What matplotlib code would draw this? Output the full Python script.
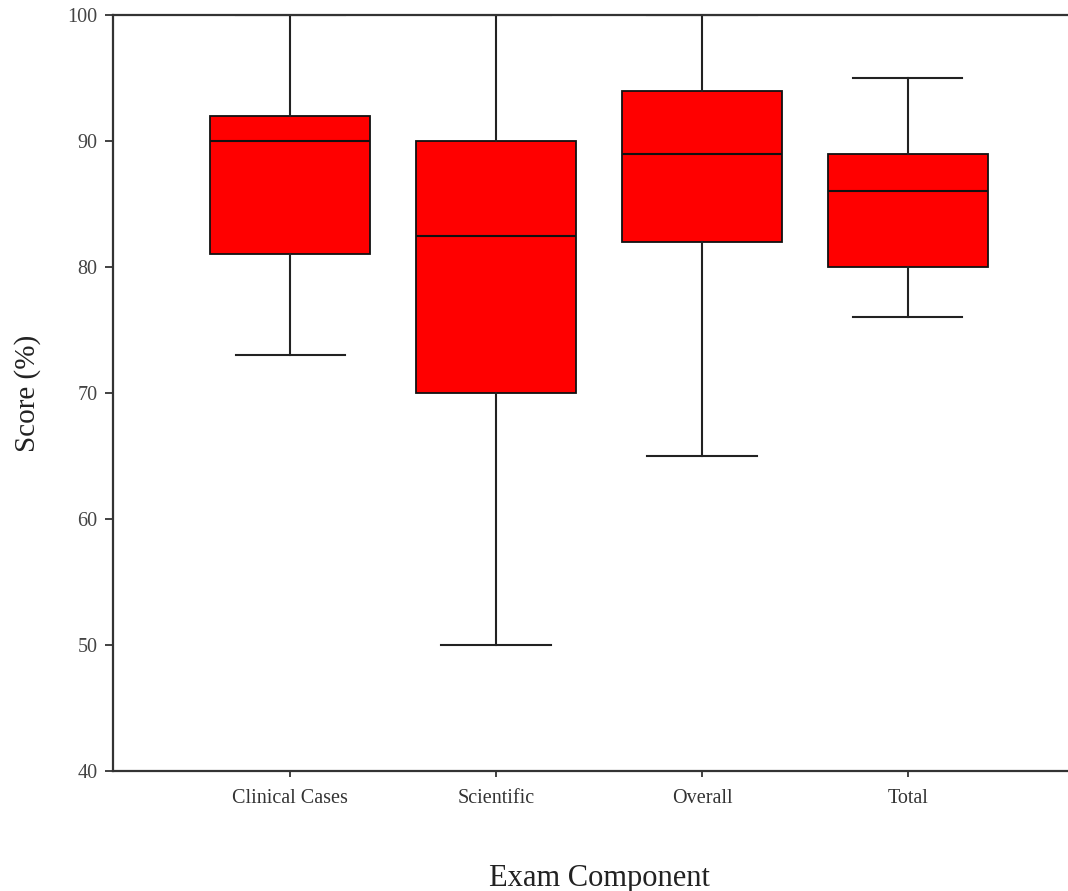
import numpy as np
import matplotlib
matplotlib.use("Agg")
import matplotlib.pyplot as plt

plt.rcParams['font.family'] = ['Liberation Serif', 'DejaVu Serif']

# box plot summary (score %)
components = ["Clinical Cases", "Scientific", "Overall", "Total"]
whisker_low = [73, 50, 65, 76]
q1 = [81, 70, 82, 80]
median = [90, 82.5, 89, 86]
q3 = [92, 90, 94, 89]
whisker_high = [100, 100, 100, 95]
y_ticks = [40, 50, 60, 70, 80, 90, 100]

stats = []
for i in range(len(components)):
    stats.append({
        'label': components[i],
        'whislo': whisker_low[i],
        'q1': q1[i],
        'med': median[i],
        'q3': q3[i],
        'whishi': whisker_high[i],
        'fliers': [],
    })

fig = plt.figure(figsize=(10.68, 8.91), dpi=100)
# axes runs a bit past the right edge, as in the cropped original
ax = fig.add_axes([113/1068, 120/891, 972/1068, 756/891])

line_col = '#222222'
ax.bxp(stats, positions=np.arange(1, len(components) + 1), widths=0.78,
       capwidths=0.53, patch_artist=True, showfliers=False,
       boxprops=dict(facecolor='#ff0000', edgecolor='#111111', linewidth=1.3),
       medianprops=dict(color='#111111', linewidth=1.5),
       whiskerprops=dict(color=line_col, linewidth=1.5),
       capprops=dict(color=line_col, linewidth=1.5))

ax.set_xlim(0.14, 4.86)
ax.set_ylim(40, 100)
ax.set_yticks(y_ticks)
ax.set_xticks(np.arange(1, len(components) + 1))
ax.set_xticklabels(components)

for s in ['left', 'bottom', 'top']:
    ax.spines[s].set_color('#333333')
    ax.spines[s].set_linewidth(1.6)
ax.spines['right'].set_visible(False)

ax.tick_params(axis='y', direction='out', length=6, width=1.3, colors='#333333',
               labelcolor='#444444', labelsize=14.5, pad=5)
ax.tick_params(axis='x', direction='out', length=4, width=1.3, colors='#333333',
               labelcolor='#333333', labelsize=14.5, pad=9)

ax.set_ylabel("Score (%)", fontsize=21, color='#222222')
ax.yaxis.set_label_coords(-0.074, 0.5)
ax.set_xlabel("Exam Component", fontsize=22, color='#222222')
ax.xaxis.set_label_coords(0.5, -0.123)

fig.savefig("out.png", dpi=100)
